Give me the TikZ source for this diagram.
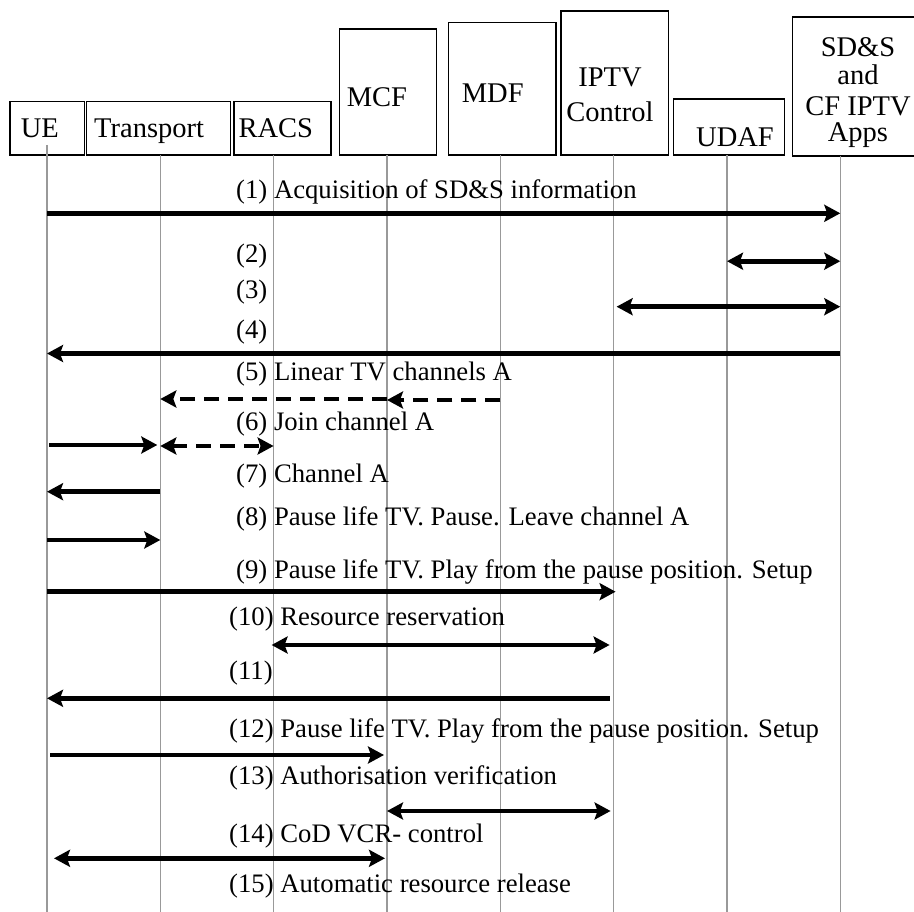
\documentclass[tikz,border=0pt]{standalone}
\usepackage{fontspec}
\setmainfont{Liberation Serif}
\usetikzlibrary{arrows.meta}

\begin{document}
\begin{tikzpicture}[
  x=1pt, y=-1pt,
  box/.style={draw, line width=1.6pt, inner sep=0pt},
  hdr/.style={inner sep=0pt, anchor=base west, font=\fontsize{28.5}{33}\selectfont},
  lbl/.style={inner sep=0pt, anchor=base west, font=\fontsize{26.7}{30}\selectfont},
  life/.style={draw=black!40, line width=1.4pt},
  msg/.style={line width=4.8pt},
  dmsg/.style={line width=4.6pt, dash pattern=on 15pt off 9pt},
  >={Stealth[length=16pt, width=17pt, inset=3pt]}
]
\clip (0,0) rectangle (914,912);

% Entities
\node[box, minimum width=74.3, minimum height=53.3] (ue-box) at (47.15,128.35) {};
\node[box, minimum width=144, minimum height=53.3] (tr-box) at (158.3,128.35) {};
\node[box, minimum width=97, minimum height=53.3] (racs-box) at (282.2,128.35) {};
\node[box, minimum width=97, minimum height=125.7] (mcf-box) at (387.8,92.15) {};
\node[box, minimum width=107.7, minimum height=132.3] (mdf-box) at (502.15,88.85) {};
\node[box, minimum width=107.6, minimum height=144] (iptv-box) at (614.5,83) {};
\node[box, minimum width=111, minimum height=55.7] (udaf-box) at (728.8,127.15) {};
\node[box, minimum width=132.7, minimum height=138.7] (sds-box) at (858.65,86.65) {};

\node[hdr] (ue-t) at (20.7,138) {UE};
\node[hdr] (tr-t) at (94,138) {Transport};
\node[hdr] (racs-t) at (238.3,138) {RACS};
\node[hdr] (mcf-t) at (346.7,107) {MCF};
\node[hdr] (mdf-t) at (461.7,103) {MDF};
\node[hdr, anchor=base, align=center] (iptv-t) at (610,121.7) {IPTV\\[2pt]Control};
\node[hdr] (udaf-t) at (696,146.7) {UDAF};
\node[hdr, anchor=base, align=center] (sds-t) at (858,141.7)
  {SD\&S\\[-4.7pt]and\\[-2pt]CF IPTV\\[-7.3pt]Apps};

% Lifelines
\coordinate (ue) at (47,145);
\coordinate (tr) at (160.3,155);
\coordinate (racs) at (273.6,155);
\coordinate (mcf) at (387,155);
\coordinate (mdf) at (500.3,155);
\coordinate (iptv) at (613.6,155);
\coordinate (udaf) at (727,155);
\coordinate (sds) at (840.3,156);
\foreach \l in {ue,tr,racs,mcf,mdf,iptv,udaf,sds}
  \draw[life] (\l) -- (\l |- 0,912);

% Messages
\node[lbl] (m1) at (236,198.8) {(1) Acquisition of SD\&S information};
\draw[msg,->] (ue |- 0,213.3) -- (sds |- 0,213.3);

\node[lbl] (m2) at (236,262.2) {(2)};
\draw[msg,<->] (udaf |- 0,261.2) -- (sds |- 0,261.2);

\node[lbl] (m3) at (236,298.8) {(3)};
\draw[msg,<->] ([xshift=3pt]iptv |- 0,306.7) -- (sds |- 0,306.7);

\node[lbl] (m4) at (236,338.8) {(4)};
\draw[msg,->] (sds |- 0,353.5) -- (ue |- 0,353.5);

\node[lbl] (m5) at (236,381) {(5) Linear TV channels A};
\draw[dmsg,->] (mdf |- 0,400) -- (mcf |- 0,400);
\draw[dmsg,->] (mcf |- 0,399) -- (tr |- 0,399);

\node[lbl] (m6) at (236,430.5) {(6) Join channel A};
\draw[msg,->] ([xshift=2pt]ue |- 0,445) -- ([xshift=-3pt]tr |- 0,445);
\draw[dmsg,<->] (tr |- 0,446) -- (racs |- 0,446);

\node[lbl] (m7) at (236,482) {(7) Channel A};
\draw[msg,->] (tr |- 0,491.7) -- (ue |- 0,491.7);

\node[lbl] (m8) at (236,525.5) {(8) Pause life TV. Pause. Leave channel A};
\draw[msg,->] (ue |- 0,540) -- (tr |- 0,540);

\node[lbl] (m9) at (236,578) {(9) Pause life TV. Play from the pause position. Setup};
\draw[msg,->] (ue |- 0,591.7) -- ([xshift=2pt]iptv |- 0,591.7);

\node[lbl] (m10) at (229,625.5) {(10) Resource reservation};
\draw[msg,<->] ([xshift=-2pt]racs |- 0,645) -- ([xshift=-4pt]iptv |- 0,645);

\node[lbl] (m11) at (229,679) {(11)};
\draw[msg,->] ([xshift=-4pt]iptv |- 0,698.3) -- (ue |- 0,698.3);

\node[lbl] (m12) at (229,737) {(12) Pause life TV. Play from the pause position. Setup};
\draw[msg,->] ([xshift=3pt]ue |- 0,755) -- ([xshift=-3pt]mcf |- 0,755);

\node[lbl] (m13) at (229,784) {(13) Authorisation verification};
\draw[msg,<->] (mcf |- 0,811) -- ([xshift=-3pt]iptv |- 0,811);

\node[lbl] (m14) at (229,842) {(14) CoD VCR- control};
\draw[msg,<->] ([xshift=7pt]ue |- 0,858.3) -- ([xshift=-2pt]mcf |- 0,858.3);

\node[lbl] (m15) at (229,892) {(15) Automatic resource release};
\end{tikzpicture}
\end{document}
